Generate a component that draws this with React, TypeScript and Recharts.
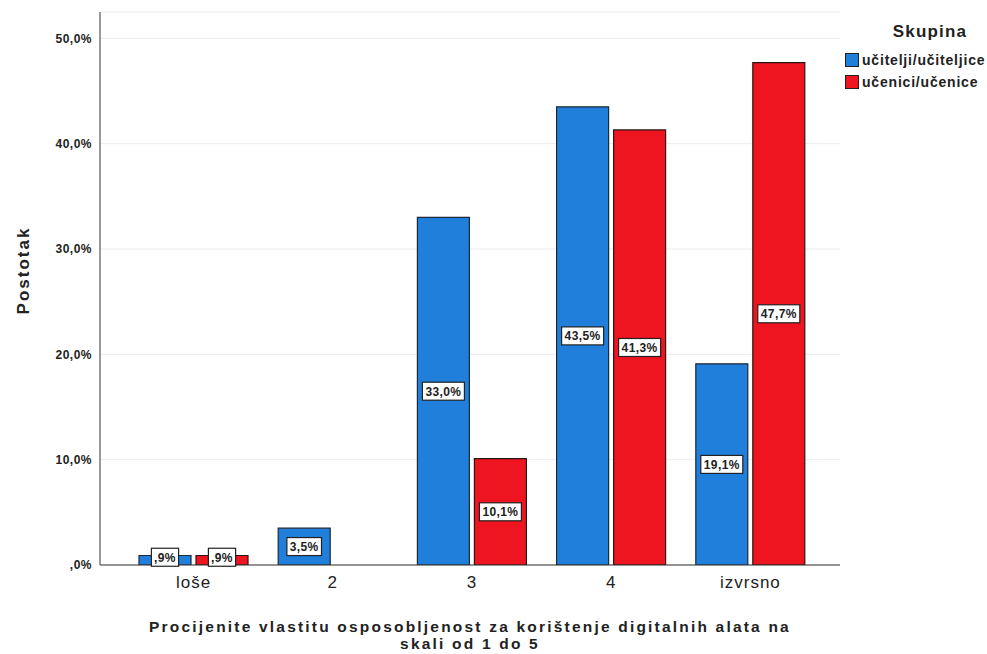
import * as React from "react";
import { Bar, BarChart, CartesianGrid, LabelList, XAxis, YAxis } from "recharts";

// Self-assessed digital skills, share per group (percent).
const categories = ["loše", "2", "3", "4", "izvrsno"];
const ucitelji = [0.9, 3.5, 33.0, 43.5, 19.1];
const ucenici = [0.9, 0, 10.1, 41.3, 47.7];
const yTicks = [0, 10, 20, 30, 40, 50];

const BLUE = "#1f7fdb";
const RED = "#ee1520";
const FONT = "'Liberation Sans', Arial, sans-serif";

const data = categories.map((c, i) => ({ cat: c, ucitelji: ucitelji[i], ucenici: ucenici[i] }));

const pct = (v: number) => (v === 0 ? ",0%" : v.toFixed(1).replace(/^0/, "").replace(".", ",") + "%");

function BoxLabel(props: any) {
  const { x, y, width, height, value } = props;
  if (!value) return null;
  const text = pct(Number(value));
  const w = text.length * 7.4 + 5;
  const h = 18;
  const cx = Number(x) + Number(width) / 2;
  const cy = Number(y) + Number(height) / 2 - (Number(height) < 12 ? 3 : 0);
  return (
    <g>
      <rect x={cx - w / 2} y={cy - h / 2} width={w} height={h} fill="#fff" stroke="#222" strokeWidth={1.2} />
      <text
        x={cx}
        y={cy + 4.5}
        textAnchor="middle"
        fontSize={12}
        fontWeight={700}
        letterSpacing={0.4}
        fill="#222"
        fontFamily={FONT}
      >
        {text}
      </text>
    </g>
  );
}

function LegendBox() {
  const items = [
    { label: "učitelji/učiteljice", color: BLUE },
    { label: "učenici/učenice", color: RED },
  ];
  return (
    <div style={{ position: "absolute", left: 845, top: 22, fontFamily: FONT, color: "#222" }}>
      <div style={{ fontWeight: 700, fontSize: 17, letterSpacing: 1.2, textAlign: "center", width: 170, marginBottom: 7 }}>
        Skupina
      </div>
      {items.map((it) => (
        <div key={it.label} style={{ display: "flex", alignItems: "center", height: 22 }}>
          <span style={{ width: 12, height: 12, background: it.color, border: "1.5px solid #222", marginRight: 3 }} />
          <span style={{ fontSize: 14, fontWeight: 700, letterSpacing: 0.8, whiteSpace: "nowrap" }}>{it.label}</span>
        </div>
      ))}
    </div>
  );
}

export default function App() {
  return (
    <div style={{ position: "absolute", left: 0, top: 0, width: 987, height: 654, background: "#fff", overflow: "hidden" }}>
      <BarChart
        width={987}
        height={654}
        data={data}
        margin={{ top: 12, right: 147, left: 40, bottom: 59 }}
        barSize={52}
        barGap={5}
      >
        <CartesianGrid vertical={false} stroke="#ececec" />
        <XAxis
          dataKey="cat"
          height={30}
          padding={{ left: 24, right: 20 }}
          axisLine={{ stroke: "#333", strokeWidth: 1.2 }}
          tickLine={false}
          tick={{ fill: "#222", fontSize: 17, letterSpacing: 1, fontFamily: FONT }}
          tickMargin={5}
        />
        <YAxis
          width={60}
          domain={[0, 52.5]}
          ticks={yTicks}
          allowDataOverflow
          tickFormatter={(v) => pct(Number(v))}
          axisLine={{ stroke: "#555", strokeWidth: 1.2 }}
          tickLine={false}
          tick={{ fill: "#222", fontSize: 12, fontWeight: 700, letterSpacing: 0.5, fontFamily: FONT }}
          tickMargin={2}
          label={{
            value: "Postotak",
            angle: -90,
            position: "insideLeft",
            dx: -22,
            dy: -18,
            style: { textAnchor: "middle", fontSize: 17, fontWeight: 700, letterSpacing: 2, fill: "#222", fontFamily: FONT },
          }}
        />
        <Bar dataKey="ucitelji" fill={BLUE} stroke="#1a2a3a" strokeWidth={1.2} isAnimationActive={false}>
          <LabelList dataKey="ucitelji" content={BoxLabel} />
        </Bar>
        <Bar dataKey="ucenici" fill={RED} stroke="#2a1515" strokeWidth={1.2} isAnimationActive={false}>
          <LabelList dataKey="ucenici" content={BoxLabel} />
        </Bar>
      </BarChart>
      <LegendBox />
      <div
        style={{
          position: "absolute",
          left: 40,
          top: 618,
          width: 860,
          textAlign: "center",
          fontFamily: FONT,
          fontWeight: 700,
          fontSize: 15.5,
          letterSpacing: 2.2,
          lineHeight: "17px",
          color: "#222",
        }}
      >
        Procijenite vlastitu osposobljenost za korištenje digitalnih alata na
        <br />
        skali od 1 do 5
      </div>
    </div>
  );
}
